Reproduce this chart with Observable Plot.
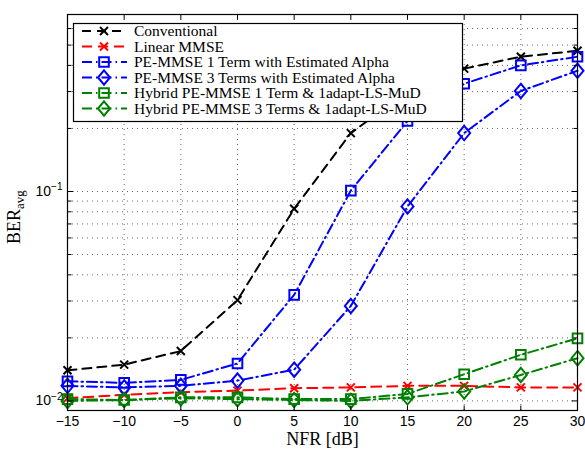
<!DOCTYPE html>
<html><head><meta charset="utf-8">
<script src="https://cdn.jsdelivr.net/npm/d3@7"></script>
<script src="https://cdn.jsdelivr.net/npm/@observablehq/plot@0.6"></script>
<style>body{margin:0;background:#fff;} #chart{width:585px;height:450px;}</style>
</head><body><div id="chart"></div>
<script>
const nfr = [-15, -10, -5, 0, 5, 10, 15, 20, 25, 30];
const conventional = [0.0140, 0.0149, 0.0173, 0.0303, 0.0827, 0.190, 0.300, 0.386, 0.440, 0.470];
const linearMMSE   = [0.0103, 0.0107, 0.0110, 0.0112, 0.0115, 0.0116, 0.0118, 0.0118, 0.0116, 0.0116];
const pe1Term      = [0.0124, 0.0122, 0.0126, 0.0151, 0.0321, 0.101, 0.217, 0.327, 0.400, 0.440];
const pe3Terms     = [0.0118, 0.0116, 0.0118, 0.0125, 0.0141, 0.0284, 0.0848, 0.190, 0.302, 0.377];
const hybrid1Term  = [0.0102, 0.0101, 0.0104, 0.0104, 0.0102, 0.0102, 0.0108, 0.0134, 0.0166, 0.0199];
const hybrid3Terms = [0.0100, 0.0101, 0.0103, 0.0102, 0.0101, 0.0100, 0.0104, 0.0111, 0.0133, 0.0160];
const seriesNames = [
  "Conventional",
  "Linear MMSE",
  "PE-MMSE 1 Term with Estimated Alpha",
  "PE-MMSE 3 Terms with Estimated Alpha",
  "Hybrid PE-MMSE 1 Term & 1adapt-LS-MuD",
  "Hybrid PE-MMSE 3 Terms & 1adapt-LS-MuD"
];
const xTicks = [-15, -10, -5, 0, 5, 10, 15, 20, 25, 30];
const yMajorTicks = [0.01, 0.1];
const yMinorTicks = [0.02, 0.03, 0.04, 0.05, 0.06, 0.07, 0.08, 0.09, 0.2, 0.3, 0.4, 0.5, 0.6, 0.7];
const yTickLabels = ["−2", "−1"];
const xLabel = "NFR [dB]";
const yLabelMain = "BER";
const yLabelSub = "avg";

const values = [conventional, linearMMSE, pe1Term, pe3Terms, hybrid1Term, hybrid3Terms];
const colors = ["#000000", "#ff0000", "#0000ff", "#0000ff", "#008000", "#008000"];
const dashes = ["9,6", "10,6", "10,4,1.5,4", "10,4,1.5,4", "10,4,1.5,4", "10,4,1.5,4"];

const symSquare = {draw(c, size) { const r = Math.sqrt(size / Math.PI); c.moveTo(-r, -r); c.lineTo(r, -r); c.lineTo(r, r); c.lineTo(-r, r); c.closePath(); }};
const symDiamond = {draw(c, size) { const r = Math.sqrt(size / Math.PI); const w = r * 1.0, h = r * 1.2; c.moveTo(0, -h); c.lineTo(w, 0); c.lineTo(0, h); c.lineTo(-w, 0); c.closePath(); }};
const symTimes = {draw(c, size) { const r = Math.sqrt(size / Math.PI); c.moveTo(-r, -r); c.lineTo(r, r); c.moveTo(r, -r); c.lineTo(-r, r); }};
const symbols = [symTimes, symTimes, symSquare, symDiamond, symSquare, symDiamond];
const radii = [4, 4, 4.8, 6, 4.8, 6];

const tickUp = (len) => ({draw(c) { c.moveTo(0, 0); c.lineTo(0, -len); }});
const tickDown = (len) => ({draw(c) { c.moveTo(0, 0); c.lineTo(0, len); }});
const tickRight = (len) => ({draw(c) { c.moveTo(0, 0); c.lineTo(len, 0); }});
const tickLeft = (len) => ({draw(c) { c.moveTo(0, 0); c.lineTo(-len, 0); }});

const rows = [];
values.forEach((arr, s) => arr.forEach((v, i) => rows.push({s, x: nfr[i], y: v})));

const marks = [
  Plot.gridX(xTicks, {stroke: "#000", strokeOpacity: 0.75, strokeWidth: 0.8, strokeDasharray: "1,4"}),
  Plot.gridY([...yMajorTicks, ...yMinorTicks], {stroke: "#000", strokeOpacity: 0.75, strokeWidth: 0.8, strokeDasharray: "1,4"}),
];
values.forEach((arr, s) => {
  const d = rows.filter(r => r.s === s);
  marks.push(Plot.line(d, {x: "x", y: "y", stroke: colors[s], strokeWidth: 2, strokeDasharray: dashes[s]}));
  marks.push(Plot.dot(d, {x: "x", y: "y", stroke: colors[s], fill: "none", strokeWidth: 2, symbol: symbols[s], r: radii[s]}));
});
marks.push(
  Plot.frame({stroke: "#000", strokeWidth: 1.2}),
  Plot.dot(xTicks, {x: d => d, frameAnchor: "bottom", symbol: tickUp(5), stroke: "#000", strokeWidth: 1, r: 1}),
  Plot.dot(xTicks, {x: d => d, frameAnchor: "top", symbol: tickDown(5), stroke: "#000", strokeWidth: 1, r: 1}),
  Plot.dot(yMajorTicks, {y: d => d, frameAnchor: "left", symbol: tickRight(6), stroke: "#000", strokeWidth: 1, r: 1}),
  Plot.dot(yMajorTicks, {y: d => d, frameAnchor: "right", symbol: tickLeft(6), stroke: "#000", strokeWidth: 1, r: 1}),
  Plot.dot(yMinorTicks, {y: d => d, frameAnchor: "left", symbol: tickRight(4), stroke: "#000", strokeWidth: 1, r: 1}),
  Plot.dot(yMinorTicks, {y: d => d, frameAnchor: "right", symbol: tickLeft(4), stroke: "#000", strokeWidth: 1, r: 1}),
  Plot.axisX(xTicks, {tickSize: 0, tickPadding: 6, fontSize: 14, fontFamily: "Liberation Sans, Arial, sans-serif", fill: "#000",
    tickFormat: d => d < 0 ? "−" + Math.abs(d) : String(d), label: null}),
  Plot.axisY(yMajorTicks, {tickSize: 0, tickPadding: 5, fontSize: 14, fontFamily: "Liberation Sans, Arial, sans-serif", fill: "#000",
    tickFormat: d => "10", label: null}),
  Plot.text([xLabel], {frameAnchor: "bottom", lineAnchor: "top", dy: 22, fontSize: 18, fontFamily: "Liberation Serif, Times New Roman, serif", fill: "#000"})
);

const plot = Plot.plot({
  width: 585, height: 450,
  marginLeft: 67, marginRight: 8, marginTop: 14, marginBottom: 40,
  style: {background: "#fff", color: "#000", overflow: "visible"},
  x: {domain: [-15, 30]},
  y: {type: "log", domain: [0.009, 0.7]},
  marks
});
document.getElementById("chart").appendChild(plot);

const svg = d3.select(plot);
// superscripts on y tick labels
svg.selectAll('[aria-label="y-axis tick label"] text').each(function(d, i) {
  const t = d3.select(this);
  t.text("10");
  t.append("tspan").attr("dy", "-0.55em").attr("font-size", 10).text(yTickLabels[i]);
});

// y-axis label
const yl = svg.append("text")
  .attr("transform", "translate(20,244) rotate(-90)")
  .attr("text-anchor", "start")
  .attr("font-family", "Liberation Serif, Times New Roman, serif")
  .attr("font-size", 18).attr("fill", "#000");
yl.append("tspan").text(yLabelMain);
yl.append("tspan").attr("dy", 4).attr("font-size", 13).text(yLabelSub);

// legend
const lg = svg.append("g").attr("aria-label", "legend").attr("text-anchor", "start");
lg.append("rect").attr("x", 73.5).attr("y", 23.5).attr("width", 389).attr("height", 98)
  .attr("fill", "#fff").attr("stroke", "#000").attr("stroke-width", 1.2);
const rowY = [31, 46.5, 62, 77.5, 93, 108.5];
seriesNames.forEach((name, s) => {
  const y = rowY[s];
  lg.append("line").attr("x1", 82).attr("x2", 127).attr("y1", y).attr("y2", y)
    .attr("stroke", colors[s]).attr("stroke-width", 2).attr("stroke-dasharray", dashes[s]);
  const p = d3.path();
  symbols[s].draw(p, Math.PI * radii[s] * radii[s]);
  lg.append("path").attr("d", p.toString()).attr("transform", `translate(104,${y})`)
    .attr("fill", "none").attr("stroke", colors[s]).attr("stroke-width", 2);
  lg.append("text").attr("x", 134).attr("y", y).attr("dy", "0.35em").attr("text-anchor", "start")
    .attr("font-family", "Liberation Serif, Times New Roman, serif").attr("font-size", 15.5)
    .attr("fill", "#000").text(name);
});
</script>
</body></html>
